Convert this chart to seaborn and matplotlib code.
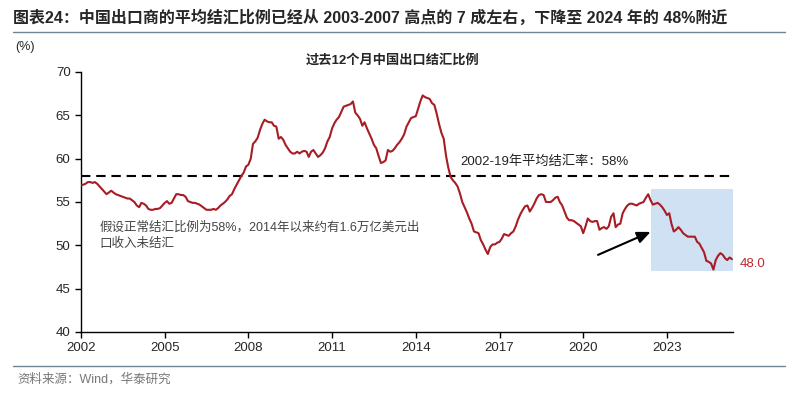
import numpy as np
import pandas as pd
import matplotlib
matplotlib.use("Agg")
import matplotlib.pyplot as plt
import matplotlib.dates as mdates
from matplotlib.patches import Rectangle
from matplotlib.lines import Line2D
import seaborn as sns

# 过去12个月中国出口结汇比例 (%), 月度, 2002-01 ~ 2025-05
ratio_by_year = {
    2002: [56.9, 57.0, 57.1, 57.3, 57.3, 57.2, 57.3, 57.1, 56.8, 56.5, 56.2, 55.9],
    2003: [56.1, 56.3, 56.1, 55.9, 55.8, 55.7, 55.6, 55.5, 55.4, 55.4, 55.2, 55.0],
    2004: [54.6, 54.4, 54.9, 54.8, 54.6, 54.2, 54.1, 54.1, 54.2, 54.2, 54.3, 54.6],
    2005: [54.9, 55.1, 54.8, 54.9, 55.4, 55.9, 55.9, 55.8, 55.8, 55.6, 55.1, 55.0],
    2006: [54.9, 54.9, 54.8, 54.7, 54.5, 54.3, 54.1, 54.1, 54.1, 54.2, 54.1, 54.3],
    2007: [54.6, 54.8, 55.0, 55.3, 55.7, 55.9, 56.5, 57.0, 57.5, 58.0, 58.4, 59.1],
    2008: [59.3, 60.0, 61.7, 62.0, 62.4, 63.3, 64.0, 64.5, 64.3, 64.2, 64.2, 63.8],
    2009: [63.7, 62.3, 62.5, 62.2, 61.6, 61.2, 60.8, 60.6, 60.6, 60.8, 60.6, 60.8],
    2010: [60.9, 60.8, 60.2, 60.8, 61.0, 60.6, 60.2, 60.4, 60.7, 61.2, 62.0, 62.5],
    2011: [63.5, 64.1, 64.5, 64.8, 65.4, 66.0, 66.1, 66.2, 66.3, 66.6, 65.3, 65.0],
    2012: [64.6, 63.8, 64.2, 63.5, 62.9, 62.3, 61.6, 61.2, 60.3, 59.5, 59.6, 59.8],
    2013: [61.0, 60.8, 60.9, 61.2, 61.6, 61.9, 62.3, 62.8, 63.7, 64.2, 64.7, 64.8],
    2014: [64.9, 65.8, 66.6, 67.3, 67.1, 67.0, 66.9, 66.4, 66.2, 65.2, 64.0, 63.0],
    2015: [62.3, 60.3, 59.0, 57.9, 57.5, 57.2, 56.8, 56.0, 55.0, 54.4, 53.8, 53.1],
    2016: [52.5, 51.6, 51.5, 51.4, 50.6, 50.1, 49.5, 49.0, 49.8, 50.1, 50.1, 50.3],
    2017: [50.4, 50.8, 51.3, 51.2, 51.1, 51.4, 51.6, 52.2, 53.0, 53.6, 54.1, 54.5],
    2018: [54.6, 53.9, 54.3, 54.8, 55.4, 55.8, 55.9, 55.8, 55.0, 55.0, 55.0, 55.2],
    2019: [55.5, 55.6, 55.0, 54.6, 53.9, 53.2, 52.9, 52.9, 52.8, 52.6, 52.4, 52.2],
    2020: [51.4, 52.2, 53.1, 52.8, 52.7, 52.8, 52.8, 51.8, 52.0, 52.1, 51.9, 52.2],
    2021: [53.3, 53.7, 52.1, 52.4, 52.5, 53.7, 54.2, 54.6, 54.8, 54.8, 54.7, 54.6],
    2022: [54.8, 54.9, 55.0, 55.5, 55.9, 55.2, 54.7, 54.8, 54.9, 54.7, 54.4, 54.0],
    2023: [53.5, 53.7, 52.5, 51.6, 51.8, 52.1, 51.8, 51.4, 51.2, 51.0, 51.0, 51.0],
    2024: [51.0, 50.4, 50.2, 49.7, 49.2, 48.2, 48.1, 47.9, 47.2, 48.3, 48.8, 49.1],
    2025: [48.9, 48.5, 48.3, 48.6, 48.4],
}
ratio = [v for y in sorted(ratio_by_year) for v in ratio_by_year[y]]
dates = pd.date_range("2002-01-01", periods=len(ratio), freq="MS")
df = pd.DataFrame({"date": dates, "ratio": ratio})

avg_rate = 58.0
avg_label = "2002-19年平均结汇率：58%"
last_label = "48.0"
tick_years = [2002, 2005, 2008, 2011, 2014, 2017, 2020, 2023]
y_ticks = [40, 45, 50, 55, 60, 65, 70]
box_start, box_low, box_high = "2022-06-01", 47.0, 56.5
arrow_tail = ("2020-07-13", 48.9)
arrow_head = ("2022-06-01", 51.55)

header = "图表24：中国出口商的平均结汇比例已经从 2003-2007 高点的 7 成左右，下降至 2024 年的 48%附近"
chart_title = "过去12个月中国出口结汇比例"
note = "假设正常结汇比例为58%，2014年以来约有1.6万亿美元出\n口收入未结汇"
source = "资料来源：Wind，华泰研究"

sns.set_style("ticks")
plt.rcParams["font.family"] = ["Liberation Sans", "Noto Sans CJK SC"]
plt.rcParams["axes.unicode_minus"] = False

fig = plt.figure(figsize=(7.99, 3.97), dpi=100)
ax = fig.add_axes([81 / 799, 1 - 332 / 397, 652 / 799, 260 / 397])

x_end = pd.Timestamp("2025-05-15")

# 蓝色区域
b0 = mdates.date2num(pd.Timestamp(box_start))
ax.add_patch(Rectangle((b0, box_low), mdates.date2num(x_end) - b0, box_high - box_low,
                       facecolor="#cfe1f2", edgecolor="none", zorder=1))

sns.lineplot(data=df, x="date", y="ratio", ax=ax, color="#a81c24", linewidth=1.5, zorder=3)

ax.axhline(avg_rate, color="black", linewidth=1.5, dashes=(4.5, 2.8), zorder=2)

ax.annotate("", xy=(pd.Timestamp(arrow_head[0]), arrow_head[1]),
            xytext=(pd.Timestamp(arrow_tail[0]), arrow_tail[1]),
            arrowprops=dict(arrowstyle="-|>,head_length=0.8,head_width=0.35",
                            color="black", lw=1.5, shrinkA=0, shrinkB=0), zorder=4)

ax.set_xlim(pd.Timestamp("2002-01-01"), x_end)
ax.set_ylim(40, 70)
ax.set_xticks([pd.Timestamp(f"{y}-01-01") for y in tick_years])
ax.set_xticklabels([str(y) for y in tick_years])
ax.set_yticks(y_ticks)
ax.set_xlabel("")
ax.set_ylabel("")
ax.tick_params(axis="both", labelsize=9.5, length=4, width=1, color="black", direction="out")
ax.tick_params(axis="x", pad=3)
for side in ["top", "right"]:
    ax.spines[side].set_visible(False)
for side in ["left", "bottom"]:
    ax.spines[side].set_color("black")
    ax.spines[side].set_linewidth(1)

ax.text(pd.Timestamp("2015-08-01"), 58.9, avg_label, fontsize=9.5, color="#222222", va="bottom")
ax.text(pd.Timestamp("2002-09-01"), 52.8, note, fontsize=9, color="#444444", va="top",
        linespacing=1.45)
ax.text(1.01, 47.9, last_label, transform=ax.get_yaxis_transform(), fontsize=9.5,
        color="#c0282d", va="center")

fig.text(393 / 799, 1 - 60 / 397, chart_title, fontsize=9.5, fontweight="bold",
         ha="center", va="center")
fig.text(15 / 799, 1 - 47 / 397, "(%)", fontsize=9, va="center")
fig.text(13 / 799, 1 - 18 / 397, header, fontsize=11.5, fontweight="bold", va="center")
fig.add_artist(Line2D([13 / 799, 785 / 799], [1 - 32 / 397] * 2, color="#6f8594", lw=1))
fig.add_artist(Line2D([13 / 799, 785 / 799], [1 - 366 / 397] * 2, color="#6f8594", lw=1))
fig.text(17 / 799, 1 - 379 / 397, source, fontsize=9, color="#777777", va="center")

fig.savefig("out.png", dpi=100)
